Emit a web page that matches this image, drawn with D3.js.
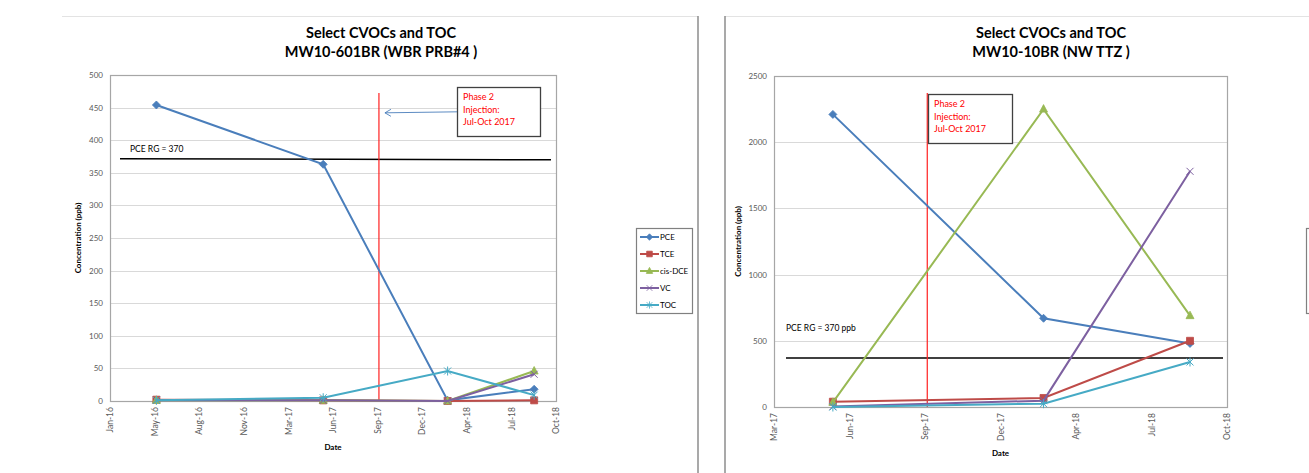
<!DOCTYPE html>
<html>
<head>
<meta charset="utf-8">
<script src="https://cdn.jsdelivr.net/npm/d3@7"></script>
<style>
  body { margin: 0; background: #fff; }
  svg text { font-family: Lato, "Open Sans", sans-serif; }
</style>
</head>
<body>
<div id="chart"></div>
<script>
// ---- data ----
const seriesNames = ['PCE', 'TCE', 'cis-DCE', 'VC', 'TOC'];
const seriesColors = ['#4a7ebb', '#be4b48', '#98b954', '#7d60a0', '#46aac5'];
const seriesMarkers = ['diamond', 'square', 'triangle', 'cross', 'star'];

// MW10-601BR
const dates601 = ['2016-05-09', '2017-05-18', '2018-02-21', '2018-09-03'];
const pce601 = [454, 363, 1, 18];
const tce601 = [2, 1, 0, 1];
const dce601 = [1, 1, 0, 46];
const vc601 = [1, 1, 0, 41];
const toc601 = [1, 5, 46, 9];

// MW10-10BR
const dates10 = ['2017-05-18', '2018-02-21', '2018-09-03'];
const pce10 = [2210, 670, 480];
const tce10 = [40, 68, 500];
const dce10 = [35, 2250, 690];
const vc10 = [3, 48, 1780];
const toc10 = [0, 25, 340];

// axis settings (Excel date axis, major unit 100 days)
const xStart601 = '2016-01-26';
const xStart10 = '2017-03-01';
const xEnd = '2018-10-22';
const tickDays = 100;
const yTicks601 = d3.range(0, 501, 50);
const yTicks10 = d3.range(0, 2501, 500);

const pceGoal = 370;
const injectionDate = '2017-09-20';
const injectionText = ['Phase 2', 'Injection:', 'Jul-Oct 2017'];

const parse = d3.timeParse('%Y-%m-%d');
const fmt = d3.timeFormat('%b-%y');

const W = 1309, H = 473;
const svg = d3.select('#chart').append('svg')
  .attr('width', W).attr('height', H);

// panel frames
svg.append('line').attr('x1', 62).attr('x2', 698).attr('y1', 16.5).attr('y2', 16.5)
  .attr('stroke', '#e3e3e3');
svg.append('line').attr('x1', 698).attr('x2', 698).attr('y1', 16).attr('y2', H)
  .attr('stroke', '#8c8c8c').attr('stroke-width', 1.5);
svg.append('line').attr('x1', 725).attr('x2', W).attr('y1', 16.5).attr('y2', 16.5)
  .attr('stroke', '#e3e3e3');
svg.append('line').attr('x1', 725).attr('x2', 725).attr('y1', 16).attr('y2', H)
  .attr('stroke', '#8c8c8c').attr('stroke-width', 1.5);

function markerPath(type) {
  switch (type) {
    case 'diamond': return 'M0,-4L4,0L0,4L-4,0Z';
    case 'square': return 'M-3.5,-3.5H3.5V3.5H-3.5Z';
    case 'triangle': return 'M0,-4.5L4,3L-4,3Z';
    case 'cross': return 'M-3.5,-3.5L3.5,3.5M-3.5,3.5L3.5,-3.5';
    default: return 'M-3.5,-3.5L3.5,3.5M-3.5,3.5L3.5,-3.5M0,-4.5V4.5';
  }
}

function drawPanel(opt) {
  const g = svg.append('g');
  const x = d3.scaleTime()
    .domain([parse(opt.xStart), parse(xEnd)])
    .range([opt.left, opt.right]);
  const y = d3.scaleLinear()
    .domain([0, d3.max(opt.yTicks)])
    .range([opt.bottom, opt.top]);

  // titles
  g.selectAll('.title')
    .data(opt.title)
    .join('text')
    .attr('x', opt.titleX)
    .attr('y', (d, i) => 38 + i * 19)
    .attr('text-anchor', 'middle')
    .attr('font-size', 14.5)
    .attr('font-weight', 700)
    .attr('fill', '#000')
    .text(d => d);

  // gridlines
  g.append('g')
    .selectAll('line')
    .data(opt.yTicks)
    .join('line')
    .attr('x1', opt.left).attr('x2', opt.right)
    .attr('y1', d => Math.round(y(d)) + 0.5).attr('y2', d => Math.round(y(d)) + 0.5)
    .attr('stroke', '#d9d9d9');

  g.append('rect')
    .attr('x', opt.left + 0.5).attr('y', opt.top + 0.5)
    .attr('width', opt.right - opt.left).attr('height', opt.bottom - opt.top)
    .attr('fill', 'none').attr('stroke', '#a6a6a6').attr('stroke-width', 1.2);

  // y axis
  const yAxis = d3.axisLeft(y).tickValues(opt.yTicks).tickFormat(d3.format('d'))
    .tickSize(0).tickPadding(7);
  g.append('g')
    .attr('transform', `translate(${opt.left},0)`)
    .call(yAxis)
    .call(a => a.select('.domain').remove())
    .call(a => a.selectAll('text')
      .attr('font-size', 8).attr('fill', '#595959')
      .attr('font-family', 'Lato, sans-serif'));

  // x axis, ticks every 100 days
  const xTicks = d3.range(0, 1100, tickDays)
    .map(n => d3.timeDay.offset(parse(opt.xStart), n))
    .filter(d => d <= parse(xEnd));
  const xAxis = d3.axisBottom(x).tickValues(xTicks).tickFormat(fmt).tickSize(0);
  g.append('g')
    .attr('transform', `translate(0,${opt.bottom})`)
    .call(xAxis)
    .call(a => a.select('.domain').remove())
    .call(a => a.selectAll('text')
      .attr('font-size', 8.5).attr('fill', '#595959')
      .attr('font-family', 'Lato, sans-serif')
      .attr('transform', 'rotate(-90)')
      .attr('text-anchor', 'end')
      .attr('x', -6).attr('y', 0).attr('dy', '0.32em'));

  // axis titles
  g.append('text')
    .attr('transform', `translate(${opt.yLabelX},${(opt.top + opt.bottom) / 2}) rotate(-90)`)
    .attr('text-anchor', 'middle')
    .attr('font-size', 8).attr('font-weight', 700)
    .text('Concentration (ppb)');
  g.append('text')
    .attr('x', (opt.left + opt.right) / 2)
    .attr('y', opt.bottom + 49)
    .attr('text-anchor', 'middle')
    .attr('font-size', 8).attr('font-weight', 700)
    .text('Date');

  // PCE remedial goal
  g.append('line')
    .attr('x1', opt.left + opt.goalInset[0]).attr('x2', opt.right - opt.goalInset[1])
    .attr('y1', y(pceGoal) - opt.goalSkew).attr('y2', y(pceGoal))
    .attr('stroke', '#000').attr('stroke-width', 1.5);
  g.append('text')
    .attr('x', opt.left + opt.goalInset[0] + opt.goalLabelDx)
    .attr('y', y(pceGoal) - opt.goalLabelDy)
    .attr('font-size', 8.5).attr('fill', '#000')
    .text(opt.goalLabel);

  // injection marker
  const xi = x(parse(injectionDate));
  g.append('line')
    .attr('x1', xi).attr('x2', xi)
    .attr('y1', 93).attr('y2', opt.bottom)
    .attr('stroke', '#ff2020').attr('stroke-width', 1.2);

  // series
  opt.series.forEach((vals, i) => {
    const pts = vals.map((v, j) => [x(parse(opt.dates[j])), y(v)]);
    g.append('path')
      .attr('d', d3.line()(pts))
      .attr('fill', 'none')
      .attr('stroke', seriesColors[i])
      .attr('stroke-width', 2);
    g.append('g')
      .selectAll('path')
      .data(pts)
      .join('path')
      .attr('transform', d => `translate(${d[0]},${d[1]})`)
      .attr('d', markerPath(seriesMarkers[i]))
      .attr('fill', seriesColors[i])
      .attr('stroke', seriesColors[i])
      .attr('stroke-width', seriesMarkers[i] === 'cross' || seriesMarkers[i] === 'star' ? 1 : 0.8);
  });

  // annotation box
  const b = opt.box;
  g.append('rect')
    .attr('x', b.x + 0.5).attr('y', b.y + 0.5)
    .attr('width', b.w).attr('height', b.h)
    .attr('fill', '#fff').attr('stroke', '#404040').attr('stroke-width', 1.3);
  g.selectAll('.note')
    .data(injectionText)
    .join('text')
    .attr('x', b.x + 6)
    .attr('y', (d, i) => b.y + 13 + i * 12.5)
    .attr('font-size', 9)
    .attr('fill', '#ff0000')
    .text(d => d);

  if (opt.arrow) {
    const ax = xi + 6, ay = y(442);
    g.append('line')
      .attr('x1', b.x).attr('y1', ay - 1)
      .attr('x2', ax).attr('y2', ay)
      .attr('stroke', '#4a7ebb').attr('stroke-width', 0.9);
    g.append('path')
      .attr('d', `M${ax + 6},${ay - 3.5}L${ax},${ay}L${ax + 6},${ay + 3.5}`)
      .attr('fill', 'none').attr('stroke', '#4a7ebb').attr('stroke-width', 0.9);
  }

  // legend (the right panel's legend lies past the page edge; only its frame shows)
  if (opt.legend) {
    const l = opt.legend;
    const lg = g.append('g').attr('transform', `translate(${l.x},${l.y})`);
    lg.append('rect')
      .attr('x', 0.5).attr('y', 0.5).attr('width', 56).attr('height', 85)
      .attr('fill', '#fff').attr('stroke', '#808080').attr('stroke-width', 1.2);
    if (l.items) {
      const item = lg.selectAll('.item')
        .data(seriesNames)
        .join('g')
        .attr('transform', (d, i) => `translate(4,${9 + i * 17})`);
      item.append('line')
        .attr('x1', 0).attr('x2', 19)
        .attr('stroke', (d, i) => seriesColors[i]).attr('stroke-width', 2);
      item.append('path')
        .attr('transform', 'translate(9.5,0) scale(0.8)')
        .attr('d', (d, i) => markerPath(seriesMarkers[i]))
        .attr('fill', (d, i) => seriesColors[i])
        .attr('stroke', (d, i) => seriesColors[i]);
      item.append('text')
        .attr('x', 20).attr('dy', '0.35em')
        .attr('font-size', 8).attr('fill', '#000')
        .text(d => d);
    }
  }
}

drawPanel({
  title: ['Select CVOCs and TOC', 'MW10-601BR (WBR PRB#4 )'],
  titleX: 381,
  left: 110, right: 556, top: 75, bottom: 401,
  xStart: xStart601, yTicks: yTicks601, yLabelX: 81,
  dates: dates601,
  series: [pce601, tce601, dce601, vc601, toc601],
  goalInset: [10, 5], goalSkew: 1, goalLabel: 'PCE RG = 370', goalLabelDx: 10, goalLabelDy: 8,
  box: { x: 457, y: 87, w: 83, h: 49 },
  arrow: true,
  legend: { x: 636, y: 228, items: true }
});

drawPanel({
  title: ['Select CVOCs and TOC', 'MW10-10BR (NW TTZ )'],
  titleX: 1051,
  left: 774, right: 1227, top: 76, bottom: 407,
  xStart: xStart10, yTicks: yTicks10, yLabelX: 741,
  dates: dates10,
  series: [pce10, tce10, dce10, vc10, toc10],
  goalInset: [12, 4], goalSkew: 0, goalLabel: 'PCE RG = 370 ppb', goalLabelDx: 0, goalLabelDy: 27,
  box: { x: 928, y: 94, w: 84, h: 49 },
  arrow: false,
  legend: { x: 1306, y: 228, items: false }
});
</script>
</body>
</html>
